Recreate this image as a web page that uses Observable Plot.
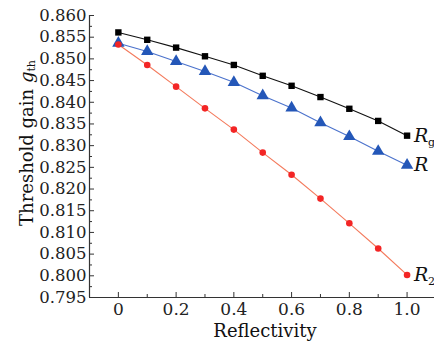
<!DOCTYPE html>
<html><head><meta charset="utf-8">
<script src="https://cdn.jsdelivr.net/npm/d3@7"></script>
<script src="https://cdn.jsdelivr.net/npm/@observablehq/plot@0.6"></script>
<style>body{margin:0;background:#fff}</style>
</head><body><div id="chart"></div>
<script>
const reflectivity = [0,0.1,0.2,0.3,0.4,0.5,0.6,0.7,0.8,0.9,1.0];
const gainRg = [0.8561,0.8544,0.8526,0.8506,0.8486,0.8461,0.8438,0.8412,0.8385,0.8357,0.8323];
const gainR  = [0.8536,0.8517,0.8494,0.8471,0.8446,0.8415,0.8387,0.8353,0.8321,0.8287,0.8255];
const gainR2 = [0.8533,0.8486,0.8436,0.8386,0.8337,0.8284,0.8233,0.8178,0.8121,0.8063,0.8002];
const labelMain = ["R","R","R"];
const labelSub = ["g","","2"];
const yTicks = [0.795,0.800,0.805,0.810,0.815,0.820,0.825,0.830,0.835,0.840,0.845,0.850,0.855,0.860];
const yMinor = [0.7975,0.8025,0.8075,0.8125,0.8175,0.8225,0.8275,0.8325,0.8375,0.8425,0.8475,0.8525,0.8575];
const xTicks = [0,0.2,0.4,0.6,0.8,1.0];
const xMinor = [0.1,0.3,0.5,0.7,0.9];
const xTickLabels = ["0","0.2","0.4","0.6","0.8","1.0"];

const font = "DejaVu Serif";
const mk = (vals) => reflectivity.map((x,i)=>({x, y: vals[i]}));
const dRg = mk(gainRg), dR = mk(gainR), dR2 = mk(gainR2);
const last = [dRg[10], dR[10], dR2[10]].map((d,i)=>({...d, main: labelMain[i], sub: labelSub[i]}));

const chart = Plot.plot({
  width: 434, height: 344,
  marginLeft: 89, marginRight: 0, marginTop: 15, marginBottom: 47,
  style: {fontFamily: font, background: "#fff"},
  x: {domain: [-0.1, 1.095], axis: null},
  y: {domain: [0.795, 0.860], axis: null},
  marks: [
    Plot.axisY(yTicks, {tickSize: -5, tickPadding: 8, stroke: "#333", color: "#222", fontSize: 16.5, tickFormat: d3.format(".3f"), label: null}),
    Plot.axisY(yMinor, {tickSize: -3, text: null, stroke: "#333", label: null}),
    Plot.axisX(xTicks, {tickSize: -5, tickPadding: 10, stroke: "#333", color: "#222", fontSize: 17, tickFormat: (d,i)=>xTickLabels[i], label: null}),
    Plot.axisX(xMinor, {tickSize: -3, text: null, stroke: "#333", label: null}),
    Plot.ruleX([-0.1], {stroke: "#333", strokeWidth: 1.2}),
    Plot.ruleY([0.795], {stroke: "#333", strokeWidth: 1.2}),
    Plot.line(dRg, {x:"x", y:"y", stroke:"#111", strokeWidth:1.1}),
    Plot.line(dR, {x:"x", y:"y", stroke:"#4b72cc", strokeWidth:1.1}),
    Plot.line(dR2, {x:"x", y:"y", stroke:"#f47a5c", strokeWidth:1.1}),
    Plot.dot(dRg, {x:"x", y:"y", symbol:"square", r:3.6, fill:"#000"}),
    Plot.dot(dR, {x:"x", y:"y", symbol:"triangle", r:4.6, fill:"#2457b8"}),
    Plot.dot(dR2, {x:"x", y:"y", symbol:"circle", r:3.3, fill:"#f32525"}),
    Plot.text(last, {x:"x", y:"y", text:"main", dx:7, textAnchor:"start", fontStyle:"italic", fontSize:19, fill:"#111"}),
    Plot.text(last, {x:"x", y:"y", text:"sub", dx:21, dy:7, textAnchor:"start", fontSize:11, fill:"#111"})
  ]
});
const svg = d3.select(chart);
const t = svg.append("text")
  .attr("transform","translate(26,143) rotate(-90)")
  .attr("text-anchor","middle").attr("dominant-baseline","central")
  .attr("font-family",font).attr("font-size",18).attr("fill","#111");
t.append("tspan").text("Threshold gain ");
t.append("tspan").attr("font-style","italic").text("g");
t.append("tspan").attr("font-size",11).attr("dy",5).text("th");
svg.append("text").attr("x",265).attr("y",330)
  .attr("text-anchor","middle").attr("dominant-baseline","central")
  .attr("font-family",font).attr("font-size",18).attr("fill","#111").text("Reflectivity");
document.getElementById("chart").append(chart);
</script>
</body></html>
